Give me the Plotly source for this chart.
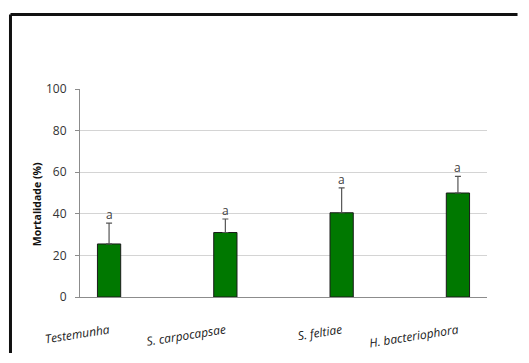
import plotly.graph_objects as go

categories = ["Testemunha", "S. carpocapsae", "S. feltiae", "H. bacteriophora"]
mortality = [25.5, 31, 40.5, 50]
errors = [10, 6.5, 12, 8]
letters = ["a", "a", "a", "a"]
y_ticks = [0, 20, 40, 60, 80, 100]

fig = go.Figure()
fig.add_trace(go.Bar(
    x=list(range(len(categories))), y=mortality, width=0.2,
    marker=dict(color="#007800", line=dict(color="#1a1a1a", width=1)),
    error_y=dict(type="data", symmetric=False, array=errors,
                 arrayminus=[0] * len(errors), color="#555555",
                 thickness=1.2, width=3),
    showlegend=False,
))

for i, (v, e, t) in enumerate(zip(mortality, errors, letters)):
    fig.add_annotation(x=i, y=v + e, text=t, showarrow=False,
                       yanchor="bottom", yshift=-2,
                       font=dict(family="Open Sans", size=12, color="#404040"))

fig.add_annotation(xref="paper", yref="paper", x=-0.126, y=0.445,
                   text="<b>Mortalidade (%)</b>", textangle=-90,
                   showarrow=False,
                   font=dict(family="Open Sans", size=10.5, color="#111111"))

# outer frame: left and top edges only (the rest lies outside the view)
fig.add_shape(type="line", xref="paper", yref="paper",
              x0=-0.1708, y0=-0.28, x1=-0.1708, y1=1.358,
              line=dict(color="#111111", width=3))
fig.add_shape(type="line", xref="paper", yref="paper",
              x0=-0.1708, y0=1.358, x1=1.075, y1=1.358,
              line=dict(color="#111111", width=3))

fig.update_layout(
    width=511, height=345,
    margin=dict(l=72, r=32, t=81, b=56, autoexpand=False),
    paper_bgcolor="white", plot_bgcolor="white",
    xaxis=dict(range=[-0.25, 3.25], tickmode="array",
               tickvals=list(range(len(categories))),
               ticktext=[f"<i>{c}</i>" for c in categories],
               tickangle=-9, showline=True, linecolor="#8c8c8c",
               linewidth=1, showgrid=False, ticks="", automargin=False,
               ticklabelstandoff=21,
               tickfont=dict(family="Open Sans", size=12, color="#222222")),
    yaxis=dict(range=[0, 100], tickvals=y_ticks, showline=True,
               linecolor="#8c8c8c", linewidth=1, ticks="outside",
               ticklen=4, tickcolor="#8c8c8c", gridcolor="#d4d4d4",
               zeroline=False, ticklabelstandoff=6, automargin=False,
               tickfont=dict(family="Open Sans", size=12, color="#333333")),
)

fig.write_html("out.html", config={"displayModeBar": False})
